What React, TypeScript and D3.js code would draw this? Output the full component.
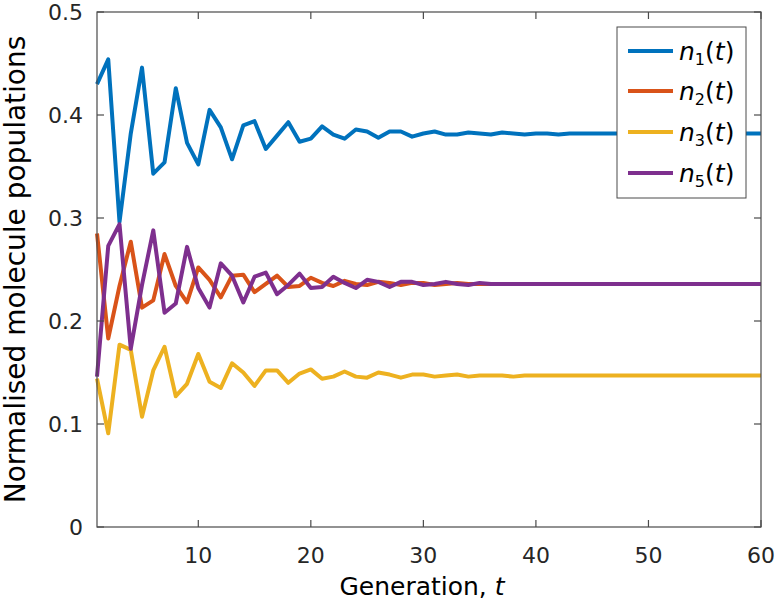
import React from "react";
import * as d3 from "d3";

const generations: number[] = Array.from({ length: 60 }, (_, i) => i + 1);

const n1: number[] = [
  0.430, 0.454, 0.296, 0.382, 0.446, 0.343, 0.354, 0.426, 0.373, 0.352,
  0.405, 0.388, 0.357, 0.390, 0.394, 0.367, 0.380, 0.393, 0.374, 0.377,
  0.389, 0.381, 0.377, 0.386, 0.384, 0.378, 0.384, 0.384, 0.379, 0.382,
  0.384, 0.381, 0.381, 0.383, 0.382, 0.381, 0.383, 0.382, 0.381, 0.382,
  0.382, 0.381, 0.382, 0.382, 0.382, 0.382, 0.382, 0.382, 0.382, 0.382,
  0.382, 0.382, 0.382, 0.382, 0.382, 0.382, 0.382, 0.382, 0.382, 0.382,
];
const n2: number[] = [
  0.285, 0.183, 0.234, 0.277, 0.213, 0.220, 0.265, 0.234, 0.218, 0.252,
  0.240, 0.223, 0.244, 0.245, 0.228, 0.236, 0.244, 0.233, 0.234, 0.242,
  0.237, 0.234, 0.239, 0.236, 0.235, 0.238, 0.237, 0.235, 0.237, 0.237,
  0.235, 0.236, 0.237, 0.236, 0.236, 0.236, 0.236, 0.236, 0.236, 0.236,
  0.236, 0.236, 0.236, 0.236, 0.236, 0.236, 0.236, 0.236, 0.236, 0.236,
  0.236, 0.236, 0.236, 0.236, 0.236, 0.236, 0.236, 0.236, 0.236, 0.236,
];
const n3: number[] = [
  0.144, 0.091, 0.177, 0.172, 0.107, 0.152, 0.175, 0.127, 0.139, 0.168,
  0.141, 0.135, 0.159, 0.150, 0.137, 0.152, 0.152, 0.140, 0.149, 0.153,
  0.144, 0.146, 0.151, 0.146, 0.145, 0.150, 0.148, 0.145, 0.148, 0.148,
  0.146, 0.147, 0.148, 0.146, 0.147, 0.147, 0.147, 0.146, 0.147, 0.147,
  0.147, 0.147, 0.147, 0.147, 0.147, 0.147, 0.147, 0.147, 0.147, 0.147,
  0.147, 0.147, 0.147, 0.147, 0.147, 0.147, 0.147, 0.147, 0.147, 0.147,
];
const n5: number[] = [
  0.146, 0.273, 0.294, 0.173, 0.235, 0.288, 0.208, 0.217, 0.272, 0.232,
  0.213, 0.256, 0.244, 0.218, 0.243, 0.247, 0.226, 0.235, 0.246, 0.232,
  0.233, 0.243, 0.237, 0.232, 0.240, 0.238, 0.233, 0.238, 0.238, 0.235,
  0.236, 0.238, 0.236, 0.235, 0.237, 0.236, 0.236, 0.236, 0.236, 0.236,
  0.236, 0.236, 0.236, 0.236, 0.236, 0.236, 0.236, 0.236, 0.236, 0.236,
  0.236, 0.236, 0.236, 0.236, 0.236, 0.236, 0.236, 0.236, 0.236, 0.236,
];

const seriesNames: string[] = ["1", "2", "3", "5"];
const seriesColors: string[] = ["#0072BD", "#D95319", "#EDB120", "#7E2F8E"];
const seriesValues: number[][] = [n1, n2, n3, n5];

const xTicks: number[] = [10, 20, 30, 40, 50, 60];
const yTicks: number[] = [0, 0.1, 0.2, 0.3, 0.4, 0.5];
const yTickLabels: string[] = ["0", "0.1", "0.2", "0.3", "0.4", "0.5"];

const W = 777;
const H = 602;
const L = 97;
const R = 761;
const T = 12;
const B = 527;
const TICK = 7;
const AXIS = "#4a4a4a";
const FONT = "'DejaVu Sans', sans-serif";

export default function App() {
  const x = d3.scaleLinear().domain([1, 60]).range([L, R]);
  const y = d3.scaleLinear().domain([0, 0.5]).range([B, T]);
  const line = d3
    .line<number>()
    .x((_, i) => x(generations[i]))
    .y((d) => y(d));

  const legX0 = 617;
  const legY0 = 27;
  const legW = 129;
  const legH = 171;
  const rowY = [51, 91, 132, 173];

  return (
    <svg
      width={W}
      height={H}
      style={{ position: "absolute", left: 0, top: 0, background: "#fff" }}
    >
      <rect x={0} y={0} width={W} height={H} fill="#fff" />
      {seriesValues.map((vals, k) => (
        <path
          key={k}
          d={line(vals) || ""}
          fill="none"
          stroke={seriesColors[k]}
          strokeWidth={4}
          strokeLinejoin="round"
        />
      ))}
      <rect
        x={L}
        y={T}
        width={R - L}
        height={B - T}
        fill="none"
        stroke={AXIS}
        strokeWidth={1.2}
      />
      {xTicks.map((t) => (
        <g key={"xt" + t}>
          <line x1={x(t)} x2={x(t)} y1={B} y2={B - TICK} stroke={AXIS} strokeWidth={1.2} />
          <line x1={x(t)} x2={x(t)} y1={T} y2={T + TICK} stroke={AXIS} strokeWidth={1.2} />
          <text
            x={x(t)}
            y={563}
            textAnchor="middle"
            fontFamily={FONT}
            fontSize={22}
            fill="#262626"
          >
            {t}
          </text>
        </g>
      ))}
      {yTicks.map((v, i) => (
        <g key={"yt" + v}>
          <line x1={L} x2={L + TICK} y1={y(v)} y2={y(v)} stroke={AXIS} strokeWidth={1.2} />
          <line x1={R} x2={R - TICK} y1={y(v)} y2={y(v)} stroke={AXIS} strokeWidth={1.2} />
          <text
            x={L - 14}
            y={y(v) + 8}
            textAnchor="end"
            fontFamily={FONT}
            fontSize={22}
            fill="#262626"
          >
            {yTickLabels[i]}
          </text>
        </g>
      ))}
      <text
        x={(L + R) / 2 - 7}
        y={595}
        textAnchor="middle"
        fontFamily={FONT}
        fontSize={25}
        fill="#000"
      >
        Generation, <tspan fontStyle="italic">t</tspan>
      </text>
      <text
        transform={`translate(25, ${(T + B) / 2}) rotate(-90)`}
        textAnchor="middle"
        fontFamily={FONT}
        fontSize={28}
        fill="#000"
      >
        Normalised molecule populations
      </text>
      <rect
        x={legX0}
        y={legY0}
        width={legW}
        height={legH}
        fill="#fff"
        stroke={AXIS}
        strokeWidth={1}
      />
      {seriesNames.map((s, k) => (
        <g key={"lg" + s}>
          <line
            x1={628}
            x2={673}
            y1={rowY[k]}
            y2={rowY[k]}
            stroke={seriesColors[k]}
            strokeWidth={4}
          />
          <text x={679} y={rowY[k] + 9} fontFamily={FONT} fontSize={25} fill="#000">
            <tspan fontStyle="italic">n</tspan>
            <tspan fontSize={16} dy={5}>{s}</tspan>
            <tspan dy={-5}>(</tspan>
            <tspan fontStyle="italic">t</tspan>
            <tspan>)</tspan>
          </text>
        </g>
      ))}
    </svg>
  );
}
